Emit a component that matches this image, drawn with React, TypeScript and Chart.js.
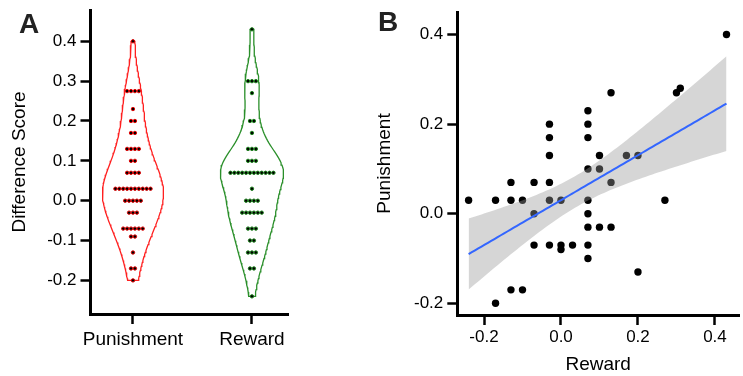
import React, { useEffect, useRef } from 'react';
import { Chart, registerables } from 'chart.js';

Chart.register(...registerables);

const FONT = "'Liberation Sans', Arial, Helvetica, sans-serif";

// Panel A: dot-plot bins (value) and number of dots in each bin
const categories = ['Punishment', 'Reward'];
const punishmentBins = [0.40, 0.275, 0.23, 0.20, 0.17, 0.13, 0.10, 0.07, 0.03, 0.00, -0.03, -0.07, -0.09, -0.13, -0.17, -0.20];
const punishmentCounts = [1, 4, 1, 2, 2, 4, 2, 4, 10, 5, 3, 6, 2, 1, 2, 1];
const rewardBins = [0.43, 0.30, 0.27, 0.20, 0.17, 0.13, 0.10, 0.07, 0.03, 0.00, -0.03, -0.07, -0.10, -0.13, -0.17, -0.24];
const rewardCounts = [1, 3, 1, 2, 1, 3, 3, 12, 1, 4, 6, 3, 2, 3, 2, 1];
const yTicksA = [-0.2, -0.1, 0.0, 0.1, 0.2, 0.3, 0.4];

// Panel B: scatter (Reward on x, Punishment on y)
const scatterReward = [0.43, 0.30, 0.31, 0.13, 0.07, 0.07, 0.07, -0.03, -0.03, -0.03, 0.10, 0.07, 0.10, 0.17, 0.20, 0.13, -0.13, -0.07, -0.03, -0.24, -0.17, -0.13, -0.10, -0.03, 0.00, 0.07, 0.27, -0.07, 0.07, 0.07, 0.10, 0.13, -0.07, -0.03, 0.00, 0.03, 0.07, 0.00, 0.07, 0.20, -0.13, -0.10, -0.17];
const scatterPunishment = [0.40, 0.27, 0.28, 0.27, 0.23, 0.20, 0.17, 0.20, 0.17, 0.13, 0.13, 0.10, 0.10, 0.13, 0.13, 0.07, 0.07, 0.07, 0.07, 0.03, 0.03, 0.03, 0.03, 0.03, 0.03, 0.03, 0.03, 0.00, 0.00, -0.03, -0.03, -0.03, -0.07, -0.07, -0.07, -0.07, -0.07, -0.08, -0.10, -0.13, -0.17, -0.17, -0.20];
const ticksB = [-0.2, 0.0, 0.2, 0.4];

const expand = (bins: number[], counts: number[]) => {
  const out: number[] = [];
  bins.forEach((b, i) => { for (let k = 0; k < counts[i]; k++) out.push(b); });
  return out;
};

const quantile = (s: number[], p: number) => {
  const h = (s.length - 1) * p;
  const lo = Math.floor(h);
  const hi = Math.min(lo + 1, s.length - 1);
  return s[lo] + (h - lo) * (s[hi] - s[lo]);
};

const bwNrd0 = (v: number[]) => {
  const n = v.length;
  const m = v.reduce((a, b) => a + b, 0) / n;
  const sd = Math.sqrt(v.reduce((a, b) => a + (b - m) * (b - m), 0) / (n - 1));
  const s = [...v].sort((a, b) => a - b);
  const iqr = quantile(s, 0.75) - quantile(s, 0.25);
  const lo = Math.min(sd, iqr / 1.34);
  return 0.9 * lo * Math.pow(n, -0.2);
};

const kde = (v: number[], h: number, y: number) => {
  let s = 0;
  for (const x of v) { const z = (y - x) / h; s += Math.exp(-0.5 * z * z); }
  return s / (v.length * h * Math.sqrt(2 * Math.PI));
};

const BW_ADJUST = 1.15;
const densityCurve = (v: number[]) => {
  const h = bwNrd0(v) * BW_ADJUST;
  const lo = Math.min(...v), hi = Math.max(...v);
  const N = 120;
  const ys: number[] = [], ds: number[] = [];
  for (let i = 0; i <= N; i++) {
    const y = lo + (hi - lo) * i / N;
    ys.push(y); ds.push(kde(v, h, y));
  }
  return { ys, ds };
};

const violinPoints = (curve: { ys: number[]; ds: number[] }, center: number, scale: number) => {
  const pts: { x: number; y: number }[] = [];
  for (let i = 0; i < curve.ys.length; i++) pts.push({ x: center + curve.ds[i] * scale, y: curve.ys[i] });
  for (let i = curve.ys.length - 1; i >= 0; i--) pts.push({ x: center - curve.ds[i] * scale, y: curve.ys[i] });
  pts.push(pts[0]);
  return pts;
};

const DOT_STEP = 0.0328;
const dotPoints = (bins: number[], counts: number[], center: number) => {
  const pts: { x: number; y: number }[] = [];
  bins.forEach((b, i) => {
    const n = counts[i];
    for (let j = 0; j < n; j++) pts.push({ x: center + (j - (n - 1) / 2) * DOT_STEP, y: b });
  });
  return pts;
};

const axisCommon = {
  grid: { display: true, drawOnChartArea: false, drawTicks: true, tickLength: 10, tickWidth: 2.5, tickColor: '#000' },
  border: { display: true, color: '#000', width: 3 },
};

function PanelA() {
  const ref = useRef<HTMLCanvasElement>(null);
  useEffect(() => {
    const pv = expand(punishmentBins, punishmentCounts);
    const rv = expand(rewardBins, rewardCounts);
    const pc = densityCurve(pv);
    const rc = densityCurve(rv);
    const dmax = Math.max(...pc.ds, ...rc.ds);
    const scale = 0.265 / dmax;
    const chart = new Chart(ref.current!, {
      type: 'scatter',
      data: {
        datasets: [
          { data: dotPoints(punishmentBins, punishmentCounts, 0), pointRadius: 1.7, borderWidth: 1, borderColor: '#e00000', backgroundColor: '#000' },
          { data: dotPoints(rewardBins, rewardCounts, 1), pointRadius: 1.7, borderWidth: 1, borderColor: '#1a7f1a', backgroundColor: '#000' },
          { data: violinPoints(pc, 0, scale), showLine: true, pointRadius: 0, borderColor: '#ff2020', borderWidth: 1.3, fill: false },
          { data: violinPoints(rc, 1, scale), showLine: true, pointRadius: 0, borderColor: '#2a8f2a', borderWidth: 1.3, fill: false },
        ],
      } as any,
      options: {
        animation: false,
        responsive: false,
        devicePixelRatio: 1,
        events: [],
        layout: { padding: { top: 10, right: 12, left: 0, bottom: 0 } },
        plugins: { legend: { display: false }, tooltip: { enabled: false } },
        scales: {
          x: {
            type: 'linear', min: -0.357, max: 1.303,
            afterBuildTicks: (s: any) => { s.ticks = categories.map((_, i) => ({ value: i })); },
            afterFit: (s: any) => { s.height = 62; s.paddingLeft = 0; s.paddingRight = 0; },
            ticks: { callback: (v: any) => categories[v], font: { family: FONT, size: 19 }, color: '#000', padding: 4, maxRotation: 0, autoSkip: false },
            ...axisCommon,
          },
          y: {
            type: 'linear', min: -0.2843, max: 0.4785,
            afterBuildTicks: (s: any) => { s.ticks = yTicksA.map((v) => ({ value: v })); },
            afterFit: (s: any) => { s.width = 90.5; s.paddingTop = 0; s.paddingBottom = 0; },
            ticks: { callback: (v: any) => Number(v).toFixed(1), font: { family: FONT, size: 17 }, color: '#000', padding: 4 },
            title: { display: true, text: 'Difference Score', font: { family: FONT, size: 19 }, color: '#000', padding: { top: 8, bottom: 0 } },
            ...axisCommon,
          },
        },
      } as any,
    });
    return () => chart.destroy();
  }, []);
  return <canvas ref={ref} width={300} height={376} />;
}

function PanelB() {
  const ref = useRef<HTMLCanvasElement>(null);
  useEffect(() => {
    const n = scatterReward.length;
    const mx = scatterReward.reduce((a, b) => a + b, 0) / n;
    const my = scatterPunishment.reduce((a, b) => a + b, 0) / n;
    let sxx = 0, sxy = 0;
    for (let i = 0; i < n; i++) {
      sxx += (scatterReward[i] - mx) ** 2;
      sxy += (scatterReward[i] - mx) * (scatterPunishment[i] - my);
    }
    const b = sxy / sxx;
    const a = my - b * mx;
    let rss = 0;
    for (let i = 0; i < n; i++) rss += (scatterPunishment[i] - a - b * scatterReward[i]) ** 2;
    const s = Math.sqrt(rss / (n - 2));
    const t = 2.0195; // t(0.975, df = 41)
    const xmin = Math.min(...scatterReward), xmax = Math.max(...scatterReward);
    const fit: any[] = [], up: any[] = [], lo: any[] = [];
    const M = 80;
    for (let i = 0; i <= M; i++) {
      const x = xmin + (xmax - xmin) * i / M;
      const yh = a + b * x;
      const se = s * Math.sqrt(1 / n + (x - mx) ** 2 / sxx);
      fit.push({ x, y: yh });
      up.push({ x, y: yh + t * se });
      lo.push({ x, y: yh - t * se });
    }
    const chart = new Chart(ref.current!, {
      type: 'scatter',
      data: {
        datasets: [
          { data: fit, showLine: true, pointRadius: 0, borderColor: '#3366FF', borderWidth: 2, fill: false },
          { data: up, showLine: true, pointRadius: 0, borderWidth: 0, borderColor: 'rgba(0,0,0,0)', backgroundColor: 'rgba(153,153,153,0.4)', fill: '+1' },
          { data: lo, showLine: true, pointRadius: 0, borderWidth: 0, borderColor: 'rgba(0,0,0,0)', fill: false },
          { data: scatterReward.map((x, i) => ({ x, y: scatterPunishment[i] })), pointRadius: 3.7, borderWidth: 0, backgroundColor: '#000' },
        ],
      } as any,
      options: {
        animation: false,
        responsive: false,
        devicePixelRatio: 1,
        events: [],
        layout: { padding: { top: 12, right: 1, left: 0, bottom: 0 } },
        plugins: { legend: { display: false }, tooltip: { enabled: false }, filler: { propagate: false } },
        scales: {
          x: {
            type: 'linear', min: -0.2694, max: 0.4625,
            afterBuildTicks: (sc: any) => { sc.ticks = ticksB.map((v) => ({ value: v })); },
            afterFit: (sc: any) => { sc.height = 61; sc.paddingLeft = 0; sc.paddingRight = 0; },
            ticks: { callback: (v: any) => Number(v).toFixed(1), font: { family: FONT, size: 17 }, color: '#000', padding: 2, maxRotation: 0, autoSkip: false },
            title: { display: true, text: 'Reward', font: { family: FONT, size: 19 }, color: '#000', padding: { top: 4, bottom: 0 } },
            ...axisCommon,
          },
          y: {
            type: 'linear', min: -0.2261, max: 0.4504,
            afterBuildTicks: (sc: any) => { sc.ticks = ticksB.map((v) => ({ value: v })); },
            afterFit: (sc: any) => { sc.width = 87.3; sc.paddingTop = 0; sc.paddingBottom = 0; },
            ticks: { callback: (v: any) => Number(v).toFixed(1), font: { family: FONT, size: 17 }, color: '#000', padding: 4 },
            title: { display: true, text: 'Punishment', font: { family: FONT, size: 19 }, color: '#000', padding: { top: 3, bottom: 0 } },
            ...axisCommon,
          },
        },
      } as any,
    });
    return () => chart.destroy();
  }, []);
  return <canvas ref={ref} width={373} height={376} />;
}

export default function App() {
  const letter: React.CSSProperties = { position: 'absolute', fontFamily: FONT, fontWeight: 'bold', fontSize: 28, lineHeight: '28px', color: '#222' };
  return (
    <div style={{ position: 'absolute', left: 0, top: 0, width: 743, height: 376, background: '#fff', overflow: 'hidden' }}>
      <div style={{ position: 'absolute', left: 0, top: 0 }}><PanelA /></div>
      <div style={{ position: 'absolute', left: 370, top: 0 }}><PanelB /></div>
      <div style={{ ...letter, left: 19, top: 9.6 }}>A</div>
      <div style={{ ...letter, left: 378, top: 8 }}>B</div>
    </div>
  );
}
